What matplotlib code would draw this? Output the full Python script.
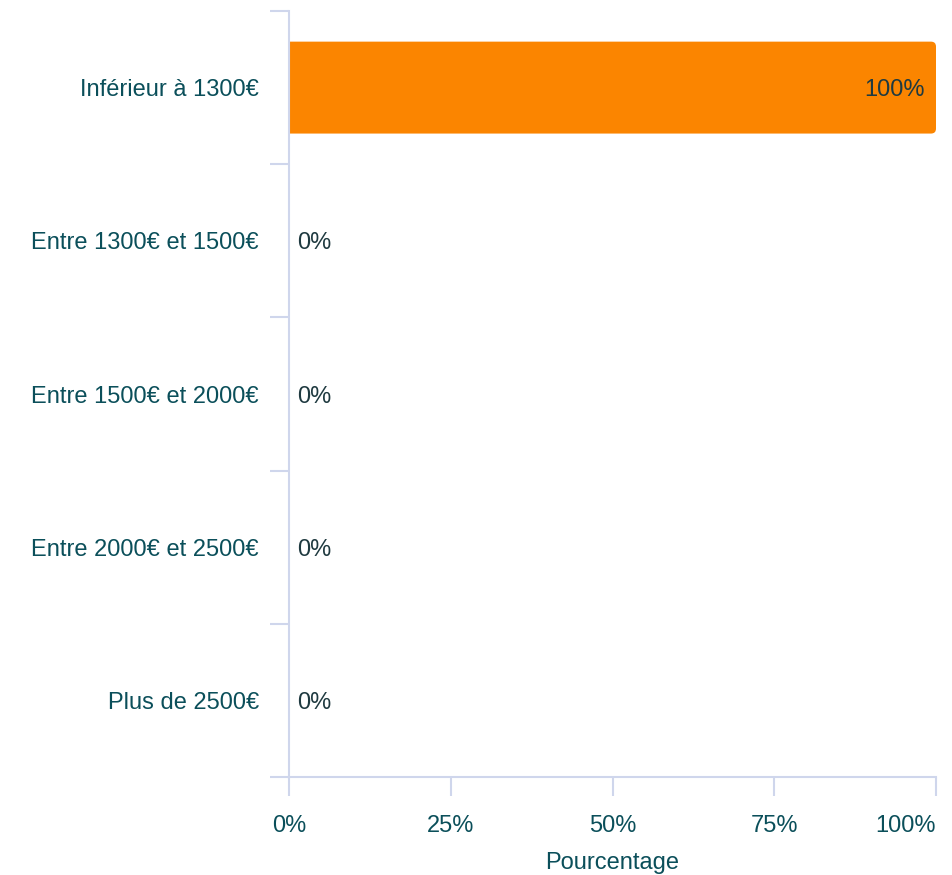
import matplotlib.pyplot as plt
from matplotlib.patches import PathPatch
from matplotlib.path import Path
from matplotlib.ticker import FixedLocator

categories = ["Inférieur à 1300€", "Entre 1300€ et 1500€", "Entre 1500€ et 2000€",
              "Entre 2000€ et 2500€", "Plus de 2500€"]
values = [100, 0, 0, 0, 0]
x_ticks = [0, 25, 50, 75, 100]
x_labels = ["0%", "25%", "50%", "75%", "100%"]

plt.rcParams['font.family'] = ['Liberation Sans', 'DejaVu Sans']

bar_color = "#fb8500"
axis_color = "#cfd6ec"
label_color = "#0b4f5a"
value_color = "#1f3a40"

fig = plt.figure(figsize=(9.53, 8.75), dpi=100)
ax = fig.add_axes([289 / 953, 1 - 777 / 875, 647 / 953, 766 / 875])

pos = list(range(len(categories)))
bars = ax.barh(pos, values, height=0.6, color=bar_color)

ax.set_xlim(0, 100)
ax.set_ylim(len(categories) - 0.5, -0.5)

# rounded right corners (about 5px)
rx = 5 * 100 / 647
ry = 5 * len(categories) / 766
for b in bars:
    x, y, w, h = b.get_x(), b.get_y(), b.get_width(), b.get_height()
    if w <= 0:
        continue
    b.set_visible(False)
    verts = [(x, y), (x + w - rx, y), (x + w, y), (x + w, y + ry),
             (x + w, y + h - ry), (x + w, y + h), (x + w - rx, y + h),
             (x, y + h), (x, y)]
    codes = [Path.MOVETO, Path.LINETO, Path.CURVE3, Path.CURVE3,
             Path.LINETO, Path.CURVE3, Path.CURVE3, Path.LINETO, Path.CLOSEPOLY]
    ax.add_patch(PathPatch(Path(verts, codes), fc=bar_color, ec="none", zorder=2))

for p, v in zip(pos, values):
    if v > 0:
        ax.text(v - 1.7, p, f"{v}%", ha="right", va="center_baseline", fontsize=17,
                color=value_color, zorder=3)
    else:
        ax.text(1.2, p, f"{v}%", ha="left", va="center_baseline", fontsize=17,
                color=value_color, zorder=3)

for s in ["top", "right"]:
    ax.spines[s].set_visible(False)
for s in ["left", "bottom"]:
    ax.spines[s].set_color(axis_color)
    ax.spines[s].set_linewidth(1.5)

ax.set_yticks(pos)
ax.set_yticklabels(categories, fontsize=17, color=label_color, va="center_baseline")
ax.yaxis.set_minor_locator(FixedLocator([i - 0.5 for i in range(len(categories) + 1)]))
ax.tick_params(axis="y", which="major", length=0, pad=21.6)
ax.tick_params(axis="y", which="minor", length=13.5, width=1.5, color=axis_color)

ax.set_xticks(x_ticks)
ax.set_xticklabels(x_labels, fontsize=17, color=label_color)
ax.get_xticklabels()[-1].set_ha("right")
ax.tick_params(axis="x", length=13.5, width=1.5, color=axis_color, pad=13.5)
ax.set_xlabel("Pourcentage", fontsize=17, color=label_color, labelpad=11)

fig.savefig("out.png", dpi=100)
